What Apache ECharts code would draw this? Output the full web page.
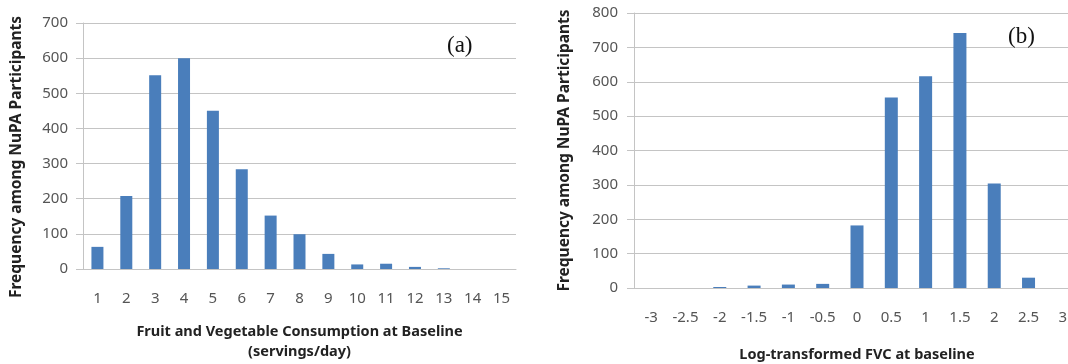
<!DOCTYPE html>
<html>
<head>
<meta charset="utf-8">
<script src="https://cdn.jsdelivr.net/npm/echarts@6/dist/echarts.min.js"></script>
<style>
html, body { margin: 0; padding: 0; background: #fff; }
#chart { width: 1068px; height: 364px; }
</style>
</head>
<body>
<div id="chart"></div>
<script>
// panel (a): servings per day
var servings = ['1','2','3','4','5','6','7','8','9','10','11','12','13','14','15'];
var servingCounts = [63, 208, 551, 600, 450, 284, 152, 99, 43, 13, 15, 6, 2, 0, 0];
var yTicksA = [0, 700, 100];

// panel (b): log-transformed FVC
var logFvc = ['-3','-2.5','-2','-1.5','-1','-0.5','0','0.5','1','1.5','2','2.5','3'];
var logFvcCounts = [0, 0, 3, 7, 10, 12, 182, 554, 616, 742, 304, 30, 0];
var yTicksB = [0, 800, 100];

var yName = 'Frequency among NuPA Participants';
var barColor = '#4a7ebb';
var gridColor = '#c4c4c4';
var tickFont = { fontFamily: 'Noto Sans', fontSize: 15, color: '#555' };
var nameFont = { fontFamily: 'Noto Sans', fontSize: 14.5, fontWeight: 'bold', color: '#222' };

function catAxis(idx, data, name, gap, lh) {
  return {
    type: 'category', gridIndex: idx, data: data,
    name: name, nameLocation: 'middle', nameGap: gap,
    nameTextStyle: Object.assign({ lineHeight: lh }, nameFont),
    axisLine: { lineStyle: { color: gridColor } },
    axisTick: { length: 5, lineStyle: { color: gridColor } },
    axisLabel: Object.assign({ margin: 22 }, tickFont)
  };
}

function valAxis(idx, ticks, gap, margin, pad) {
  return {
    type: 'value', gridIndex: idx, min: ticks[0], max: ticks[1], interval: ticks[2],
    name: yName, nameLocation: 'middle', nameGap: gap, nameRotate: 90,
    nameTextStyle: Object.assign({}, nameFont, { fontSize: 15.5, padding: pad }),
    axisLine: { show: true, lineStyle: { color: gridColor } },
    axisTick: { show: true, length: 7, lineStyle: { color: gridColor } },
    axisLabel: Object.assign({ margin: margin }, tickFont),
    splitLine: { lineStyle: { color: gridColor } }
  };
}

var chart = echarts.init(document.getElementById('chart'));
chart.setOption({
  animation: false,
  backgroundColor: '#fff',
  title: [
    { text: '(a)', left: 442, top: 29, textStyle: { fontFamily: 'Liberation Serif', fontSize: 23, fontWeight: 'normal', color: '#111' } },
    { text: '(b)', left: 1003, top: 20, textStyle: { fontFamily: 'Liberation Serif', fontSize: 23, fontWeight: 'normal', color: '#111' } }
  ],
  grid: [
    { left: 83, top: 23, width: 433, bottom: 95, outerBoundsMode: 'none' },
    { left: 634, top: 13, width: 446, bottom: 76, outerBoundsMode: 'none' }
  ],
  xAxis: [
    catAxis(0, servings, 'Fruit and Vegetable Consumption at Baseline\n(servings/day)', 53, 20),
    catAxis(1, logFvc, 'Log-transformed FVC at baseline', 58, 17)
  ],
  yAxis: [
    valAxis(0, yTicksA, 58, 15, [0, 22, 0, 0]),
    valAxis(1, yTicksB, 61, 16, 0)
  ],
  series: [
    { type: 'bar', xAxisIndex: 0, yAxisIndex: 0, data: servingCounts, barWidth: 12, itemStyle: { color: barColor } },
    { type: 'bar', xAxisIndex: 1, yAxisIndex: 1, data: logFvcCounts, barWidth: 13, itemStyle: { color: barColor } }
  ]
});
</script>
</body>
</html>
